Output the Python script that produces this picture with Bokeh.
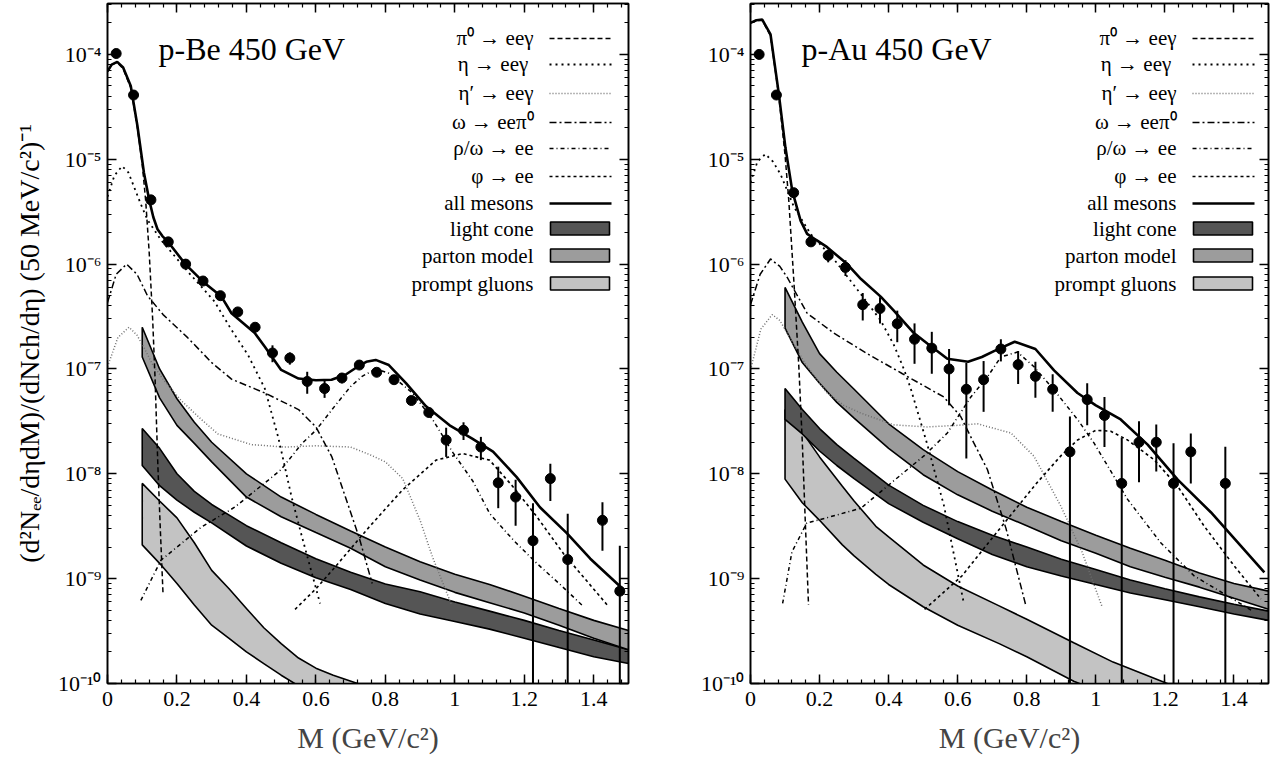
import numpy as np
from bokeh.plotting import figure
from bokeh.layouts import row
from bokeh.models import Range1d, LinearScale, FixedTicker, CustomJSTickFormatter, LogAxis, LinearAxis
from bokeh.core.properties import value
from bokeh.embed import file_html
from bokeh.resources import INLINE

FONT = "Liberation Serif"

# ------------------------------------------------------------------ data
pts_M_be = [0.025, 0.075, 0.125, 0.175, 0.225, 0.275, 0.325, 0.375, 0.425, 0.475,
            0.525, 0.575, 0.625, 0.675, 0.725, 0.775, 0.825, 0.875, 0.925, 0.975,
            1.025, 1.075, 1.125, 1.175, 1.225, 1.275, 1.325, 1.425, 1.475]
pts_be = [1.02e-4, 4.1e-5, 4.1e-6, 1.63e-6, 1.0e-6, 6.9e-7, 5.0e-7, 3.5e-7, 2.5e-7, 1.42e-7,
          1.27e-7, 7.6e-8, 6.5e-8, 8.2e-8, 1.09e-7, 9.3e-8, 7.9e-8, 5.0e-8, 3.85e-8, 2.1e-8,
          2.6e-8, 1.8e-8, 8.2e-9, 6.0e-9, 2.3e-9, 9.0e-9, 1.52e-9, 3.6e-9, 7.6e-10]
err_be = [3e-6, 1.5e-6, 2e-7, 8e-8, 5e-8, 4e-8, 3e-8, 2.5e-8, 2e-8, 2.6e-8,
          1.7e-8, 1.8e-8, 1.2e-8, 9e-9, 8e-9, 6e-9, 6e-9, 4e-9, 4e-9, 6.5e-9,
          5e-9, 4.5e-9, 3.5e-9, 2.8e-9, 2.95e-9, 3.5e-9, 2.65e-9, 1.75e-9, 1.3e-9]

pts_M_au = [0.025, 0.075, 0.125, 0.175, 0.225, 0.275, 0.325, 0.375, 0.425, 0.475,
            0.525, 0.575, 0.625, 0.675, 0.725, 0.775, 0.825, 0.875, 0.925, 0.975,
            1.025, 1.075, 1.125, 1.175, 1.225, 1.275, 1.375]
pts_au = [1.0e-4, 4.1e-5, 4.8e-6, 1.63e-6, 1.21e-6, 9.3e-7, 4.1e-7, 3.77e-7, 2.7e-7, 1.92e-7,
          1.58e-7, 1.0e-7, 6.4e-8, 7.9e-8, 1.55e-7, 1.1e-7, 8.5e-8, 6.4e-8, 1.62e-8, 5.1e-8,
          3.6e-8, 8.1e-9, 2.0e-8, 2.0e-8, 8.1e-9, 1.62e-8, 8.1e-9]
err_au = [3e-6, 1.5e-6, 3e-7, 1.5e-7, 1.7e-7, 1.6e-7, 1.2e-7, 1.05e-7, 9e-8, 8e-8,
          6.8e-8, 5.5e-8, 5e-8, 4e-8, 3.7e-8, 3.8e-8, 3.2e-8, 2.5e-8, 1.9e-8, 2.2e-8,
          1.8e-8, 1.4e-8, 1.17e-8, 9.5e-9, 1.15e-8, 8.1e-9, 1.0e-8]

# all mesons
allm_M_be = [0, 0.012, 0.028, 0.045, 0.067, 0.086, 0.105, 0.12, 0.132, 0.144, 0.158, 0.173, 0.224, 0.275,
             0.328, 0.357, 0.424, 0.453, 0.5, 0.55, 0.6, 0.645, 0.685, 0.72, 0.745, 0.772,
             0.81, 0.86, 0.917, 0.985, 1.05, 1.11, 1.178, 1.245, 1.323, 1.39, 1.487]
allm_be = [6.9e-5, 8.0e-5, 8.5e-5, 7.5e-5, 5.0e-5, 2.1e-5, 7.4e-6, 4.1e-6, 2.8e-6, 2.15e-6, 1.85e-6, 1.65e-6,
           1.0e-6, 6.8e-7, 4.9e-7, 3.4e-7, 2.2e-7, 1.63e-7, 9.8e-8, 8.1e-8, 7.8e-8, 7.9e-8, 8.8e-8, 1.05e-7,
           1.17e-7, 1.22e-7, 1.09e-7, 7.3e-8, 4.4e-8, 2.9e-8, 2.17e-8, 1.63e-8, 9.3e-9, 4.8e-9, 2.7e-9,
           1.55e-9, 7.8e-10]
allm_M_au = [0, 0.017, 0.034, 0.058, 0.082, 0.101, 0.121, 0.145, 0.164, 0.19, 0.222, 0.28, 0.32,
             0.377, 0.415, 0.473, 0.512, 0.57, 0.63, 0.67, 0.705, 0.765, 0.825, 0.879, 0.947,
             1.0, 1.072, 1.15, 1.237, 1.333, 1.488]
allm_au = [2.0e-4, 2.12e-4, 2.15e-4, 1.55e-4, 4.2e-5, 1.3e-5, 5.0e-6, 2.6e-6, 1.94e-6, 1.7e-6, 1.45e-6, 1.0e-6, 7.2e-7,
           4.9e-7, 3.6e-7, 2.2e-7, 1.75e-7, 1.25e-7, 1.17e-7, 1.3e-7, 1.48e-7, 1.82e-7, 1.55e-7, 9.7e-8, 5.9e-8,
           4.5e-8, 3.3e-8, 1.9e-8, 8.8e-9, 4.3e-9, 1.15e-9]

# pi0 -> ee gamma
pi0_M_be = [0, 0.012, 0.028, 0.045, 0.067, 0.086, 0.1, 0.11, 0.12, 0.13, 0.137, 0.145, 0.152, 0.16]
pi0_be = [6.9e-5, 8.0e-5, 8.4e-5, 7.3e-5, 4.8e-5, 2.0e-5, 9e-6, 4e-6, 1.3e-6, 3e-7, 8e-8, 1.2e-8, 3e-9, 7e-10]
pi0_M_au = [0, 0.017, 0.034, 0.058, 0.082, 0.1, 0.111, 0.126, 0.14, 0.15, 0.158, 0.168]
pi0_au = [2.0e-4, 2.1e-4, 2.12e-4, 1.5e-4, 4.0e-5, 1.1e-5, 4e-6, 6.5e-7, 1.05e-7, 2e-8, 4e-9, 5.6e-10]

# eta -> ee gamma
eta_M_be = [0, 0.02, 0.042, 0.06, 0.076, 0.095, 0.115, 0.154, 0.231, 0.308, 0.357, 0.405, 0.453,
            0.492, 0.53, 0.56, 0.612]
eta_be = [4.4e-6, 7.0e-6, 8.6e-6, 7.5e-6, 5.5e-6, 3.8e-6, 2.65e-6, 1.7e-6, 8.5e-7, 4.4e-7, 2.36e-7, 1.35e-7, 6.5e-8,
          2.2e-8, 6e-9, 2.5e-9, 5.8e-10]
eta_M_au = [0, 0.02, 0.043, 0.065, 0.087, 0.126, 0.174, 0.241, 0.319, 0.377, 0.415, 0.444, 0.464,
            0.512, 0.56, 0.617]
eta_au = [6.0e-6, 9.5e-6, 1.12e-5, 9.5e-6, 7.2e-6, 3.5e-6, 1.94e-6, 1.12e-6, 5.2e-7, 2.9e-7, 1.7e-7, 1.0e-7, 6.5e-8,
          1.9e-8, 5e-9, 6e-10]

# eta' -> ee gamma
etap_M_be = [0, 0.03, 0.062, 0.085, 0.105, 0.13, 0.16, 0.212, 0.27, 0.318, 0.414, 0.51, 0.6, 0.7,
             0.76, 0.8, 0.85, 0.9, 0.936, 0.99]
etap_be = [1.05e-7, 2.0e-7, 2.5e-7, 2.1e-7, 1.6e-7, 1.1e-7, 8e-8, 5e-8, 3.3e-8, 2.4e-8, 1.9e-8, 1.8e-8, 1.85e-8, 1.8e-8,
           1.5e-8, 1.3e-8, 9e-9, 3.6e-9, 1.6e-9, 5.7e-10]
etap_M_au = [0, 0.03, 0.063, 0.085, 0.106, 0.16, 0.22, 0.27, 0.319, 0.415, 0.512, 0.6, 0.657, 0.754,
             0.821, 0.899, 0.96, 1.019]
etap_au = [9.8e-8, 2.4e-7, 3.3e-7, 2.9e-7, 2.2e-7, 1.1e-7, 6e-8, 4.5e-8, 3.8e-8, 2.93e-8, 2.8e-8, 2.9e-8, 3.0e-8, 2.45e-8,
           1.47e-8, 4.9e-9, 1.8e-9, 5.3e-10]

# omega -> ee pi0
omd_M_be = [0, 0.025, 0.055, 0.085, 0.115, 0.16, 0.23, 0.3, 0.357, 0.453, 0.55, 0.6, 0.646, 0.685, 0.724, 0.762]
omd_be = [4.3e-7, 8e-7, 1.0e-6, 8e-7, 5e-7, 3.3e-7, 2.0e-7, 1.15e-7, 8e-8, 5.9e-8, 4.1e-8, 2.8e-8, 1.45e-8, 6e-9,
          2.5e-9, 9e-10]
omd_M_au = [0, 0.028, 0.058, 0.085, 0.106, 0.164, 0.241, 0.338, 0.44, 0.56, 0.609, 0.647, 0.686, 0.74, 0.797]
omd_au = [4.1e-7, 8e-7, 1.12e-6, 9.5e-7, 7.5e-7, 3.4e-7, 2.2e-7, 1.4e-7, 9e-8, 5.4e-8, 3.5e-8, 1.96e-8, 1.1e-8,
          3e-9, 5.6e-10]

# rho/omega -> ee
rho_M_be = [0.096, 0.154, 0.27, 0.366, 0.463, 0.5, 0.56, 0.6, 0.656, 0.7, 0.733, 0.772, 0.81, 0.878,
            0.936, 0.994, 1.052, 1.1, 1.17, 1.236, 1.3, 1.371]
rho_be = [6.2e-10, 1.5e-9, 3.1e-9, 4.8e-9, 8.7e-9, 1.1e-8, 1.95e-8, 2.6e-8, 4.5e-8, 6.8e-8, 8.5e-8, 1.0e-7, 9.1e-8,
          5.9e-8, 3.3e-8, 1.6e-8, 8.5e-9, 4.2e-9, 2.3e-9, 1.4e-9, 9e-10, 5.4e-10]
rho_M_au = [0.093, 0.12, 0.163, 0.22, 0.32, 0.417, 0.504, 0.57, 0.638, 0.686, 0.725, 0.773, 0.821, 0.879,
            0.947, 0.995, 1.092, 1.188, 1.285, 1.4, 1.45]
rho_au = [5.8e-10, 1.8e-9, 3.4e-9, 3.8e-9, 4.7e-9, 8.7e-9, 1.5e-8, 2.45e-8, 5.4e-8, 8.4e-8, 1.3e-7, 1.45e-7, 1.05e-7,
          6.3e-8, 3.3e-8, 1.96e-8, 5.7e-9, 2.2e-9, 1.06e-9, 6.3e-10, 5e-10]

# phi -> ee
phi_M_be = [0.54, 0.6, 0.656, 0.753, 0.849, 0.946, 1.023, 1.1, 1.168, 1.236, 1.313, 1.439]
phi_be = [5.1e-10, 8e-10, 1.3e-9, 3.1e-9, 7e-9, 1.35e-8, 1.56e-8, 1.35e-8, 7.5e-9, 3.9e-9, 1.73e-9, 5.6e-10]
phi_M_au = [0.504, 0.612, 0.72, 0.828, 0.9, 0.947, 1.0, 1.043, 1.092, 1.169, 1.237, 1.314, 1.401, 1.478]
phi_au = [5.1e-10, 1.06e-9, 2.95e-9, 8.1e-9, 1.5e-8, 2.1e-8, 2.6e-8, 2.55e-8, 2.1e-8, 1.36e-8, 7.6e-9, 3.16e-9,
          1.32e-9, 6.4e-10]

# bands (light cone, parton model) on a common mass grid
band_M = [0.1, 0.15, 0.2, 0.25, 0.3, 0.4, 0.5, 0.6, 0.7, 0.8, 0.9, 1.0, 1.1, 1.2, 1.3, 1.4, 1.5]
parton_hi_be = [2.5e-7, 1.0e-7, 5.2e-8, 3.1e-8, 2.0e-8, 1.0e-8, 6.0e-9, 4.1e-9, 2.85e-9, 2.0e-9, 1.45e-9, 1.1e-9,
                8.8e-10, 6.8e-10, 5.2e-10, 4.0e-10, 3.2e-10]
parton_lo_be = [1.3e-7, 5.3e-8, 2.9e-8, 1.95e-8, 1.3e-8, 6.0e-9, 3.9e-9, 2.75e-9, 1.95e-9, 1.3e-9, 9.7e-10, 7.4e-10,
                5.9e-10, 4.7e-10, 3.6e-10, 2.7e-10, 2.1e-10]
light_hi_be = [2.7e-8, 1.75e-8, 1.0e-8, 6.8e-9, 5.1e-9, 3.2e-9, 2.2e-9, 1.55e-9, 1.15e-9, 8.9e-10, 7.5e-10, 6.0e-10,
               4.9e-10, 4.0e-10, 3.2e-10, 2.6e-10, 2.1e-10]
light_lo_be = [1.2e-8, 7.7e-9, 5.6e-9, 4.3e-9, 3.4e-9, 2.05e-9, 1.4e-9, 1.02e-9, 7.9e-10, 5.8e-10, 4.6e-10, 3.9e-10,
               3.3e-10, 2.7e-10, 2.2e-10, 1.8e-10, 1.55e-10]
parton_hi_au = [6.0e-7, 2.8e-7, 1.4e-7, 9.3e-8, 6.4e-8, 3.0e-8, 1.7e-8, 1.05e-8, 7.0e-9, 4.8e-9, 3.5e-9, 2.6e-9,
                1.95e-9, 1.5e-9, 1.13e-9, 9.0e-10, 7.6e-10]
parton_lo_au = [2.45e-7, 1.15e-7, 7.3e-8, 4.8e-8, 3.4e-8, 1.75e-8, 9.8e-9, 6.3e-9, 4.4e-9, 3.2e-9, 2.3e-9, 1.75e-9,
                1.3e-9, 1.03e-9, 8.3e-10, 6.5e-10, 5.1e-10]
light_hi_au = [6.5e-8, 4.1e-8, 2.7e-8, 1.9e-8, 1.4e-8, 7.8e-9, 5.0e-9, 3.5e-9, 2.6e-9, 2.0e-9, 1.53e-9, 1.22e-9,
               9.7e-10, 8.0e-10, 6.7e-10, 5.7e-10, 4.9e-10]
light_lo_au = [3.3e-8, 2.4e-8, 1.65e-8, 1.2e-8, 9.0e-9, 5.2e-9, 3.45e-9, 2.4e-9, 1.7e-9, 1.3e-9, 1.06e-9, 8.8e-10,
               7.3e-10, 6.3e-10, 5.4e-10, 4.6e-10, 4.0e-10]

# prompt gluons
prompt_M_be = [0.1, 0.15, 0.2, 0.25, 0.3, 0.35, 0.4, 0.45, 0.5, 0.55, 0.6, 0.65, 0.72, 0.8]
prompt_hi_be = [8.1e-9, 5.5e-9, 3.8e-9, 2.2e-9, 1.2e-9, 8.0e-10, 5.2e-10, 3.4e-10, 2.4e-10, 1.75e-10, 1.4e-10,
                1.2e-10, 1.0e-10, 8e-11]
prompt_lo_be = [2.1e-9, 1.4e-9, 9e-10, 5.6e-10, 3.6e-10, 2.7e-10, 2.0e-10, 1.55e-10, 1.2e-10, 9.5e-11, 7.5e-11,
                6e-11, 4.5e-11, 3.5e-11]
prompt_M_au = [0.1, 0.15, 0.2, 0.266, 0.3, 0.363, 0.4, 0.5, 0.6, 0.72, 0.8, 0.936, 1.05, 1.185, 1.3]
prompt_hi_au = [4.1e-8, 2.5e-8, 1.45e-8, 7.6e-9, 5.5e-9, 3.16e-9, 2.5e-9, 1.35e-9, 8.5e-10, 5.5e-10, 4.1e-10,
                2.45e-10, 1.6e-10, 1.07e-10, 7.5e-11]
prompt_lo_au = [8.9e-9, 5.3e-9, 3.6e-9, 2.1e-9, 1.65e-9, 1.1e-9, 8.8e-10, 5.4e-10, 3.6e-10, 2.4e-10, 1.8e-10,
                1.05e-10, 7.5e-11, 5e-11, 3.5e-11]

legend_labels = ["π⁰ → eeγ", "η  → eeγ", "η′ → eeγ", "ω → eeπ⁰", "ρ/ω → ee", "φ → ee",
                 "all mesons", "light cone", "parton model", "prompt gluons"]
titles = ["p-Be 450 GeV", "p-Au 450 GeV"]
y_title = "(d²Nₑₑ/dηdM)/(dNch/dη) (50 MeV/c²)⁻¹"
x_title = "M (GeV/c²)"
x_ticks = [0, 0.2, 0.4, 0.6, 0.8, 1.0, 1.2, 1.4]
y_decades = list(range(-10, -3))

# ------------------------------------------------------------------ styles / geometry
C_LIGHT = "#555555"
C_PARTON = "#9c9c9c"
C_PROMPT = "#c3c3c3"
STY = {
    "pi0": dict(line_color="black", line_width=1.5, line_dash="5 3"),
    "eta": dict(line_color="black", line_width=1.8, line_dash="2 4"),
    "etap": dict(line_color="#6e6e6e", line_width=1.5, line_dash="1 2"),
    "omd": dict(line_color="black", line_width=1.5, line_dash="7 3 2 3"),
    "rho": dict(line_color="black", line_width=1.5, line_dash="4 3 1 3"),
    "phi": dict(line_color="black", line_width=1.6, line_dash="3 3"),
    "allm": dict(line_color="black", line_width=2.6),
}

MT, MB = 3, 80
FH = 680
H = MT + FH + MB
YMIN, YMAX = 1e-10, 3.06e-4

xt = FixedTicker(ticks=x_ticks, minor_ticks=[round(0.04 * i, 2) for i in range(0, 38)])
yt = FixedTicker(ticks=[10.0 ** k for k in y_decades],
                 minor_ticks=[m * 10.0 ** k for k in y_decades for m in range(2, 10)])
xfmt = CustomJSTickFormatter(code="return String(Math.round(tick*10)/10);")
yfmt = CustomJSTickFormatter(code="""
const e = Math.round(Math.log10(tick));
const sup = {"-":"\u207b","0":"\u2070","1":"\u00b9","2":"\u00b2","3":"\u00b3","4":"\u2074",
             "5":"\u2075","6":"\u2076","7":"\u2077","8":"\u2078","9":"\u2079"};
return "10" + String(e).split("").map(c => sup[c]).join("");
""")
blank = CustomJSTickFormatter(code="return '';")


def style_axis(ax, size="22px"):
    ax.major_tick_in = 9
    ax.major_tick_out = 0
    ax.minor_tick_in = 4
    ax.minor_tick_out = 0
    ax.axis_line_width = 1.6
    ax.axis_line_color = "black"
    ax.major_tick_line_width = 1.5
    ax.minor_tick_line_width = 1.2
    ax.major_tick_line_color = "black"
    ax.minor_tick_line_color = "black"
    ax.major_label_text_font = FONT
    ax.major_label_text_font_size = size
    ax.major_label_text_color = "black"


def panel(W, ML, MR, title, d, ylabel=None):
    FW = W - ML - MR
    p = figure(width=W, height=H, x_range=Range1d(0, 1.5), y_range=Range1d(YMIN, YMAX),
               y_axis_type="log", output_backend="svg", toolbar_location=None, title=None,
               min_border_left=ML, min_border_right=MR, min_border_top=MT, min_border_bottom=MB)
    p.extra_x_ranges = {"px": Range1d(0, FW)}
    p.extra_y_ranges = {"px": Range1d(FH, 0)}
    p.extra_y_scales = {"px": LinearScale()}
    p.xgrid.visible = False
    p.ygrid.visible = False
    p.outline_line_color = "black"
    p.outline_line_width = 1.5
    p.background_fill_color = "white"
    p.border_fill_color = "white"

    xa = p.xaxis[0]
    xa.ticker = xt
    xa.formatter = xfmt
    style_axis(xa)
    xa.major_label_standoff = 8
    xa.axis_label = x_title
    xa.axis_label_text_font = FONT
    xa.axis_label_text_font_size = "30px"
    xa.axis_label_text_font_style = "normal"
    xa.axis_label_standoff = 12
    ya = p.yaxis[0]
    ya.ticker = yt
    ya.formatter = yfmt
    style_axis(ya)
    ya.major_label_standoff = 6
    if ylabel:
        ya.axis_label = ylabel
        ya.axis_label_text_font = FONT
        ya.axis_label_text_font_size = "28px"
        ya.axis_label_text_font_style = "normal"
        ya.axis_label_text_color = "black"
        ya.axis_label_standoff = 10

    top = LinearAxis(ticker=xt, formatter=blank, major_label_standoff=0)
    style_axis(top, "0px")
    p.add_layout(top, "above")
    rgt = LogAxis(ticker=yt, formatter=blank, major_label_standoff=0)
    style_axis(rgt, "0px")
    p.add_layout(rgt, "right")

    # bands
    for m, hi, lo, col in [(d["prompt_M"], d["prompt_hi"], d["prompt_lo"], C_PROMPT),
                           (band_M, d["light_hi"], d["light_lo"], C_LIGHT),
                           (band_M, d["parton_hi"], d["parton_lo"], C_PARTON)]:
        xs = list(m) + list(m)[::-1]
        ys = list(hi) + list(lo)[::-1]
        p.patch(xs, ys, fill_color=col, line_color="black", line_width=1.6)

    # meson cocktail curves
    for key in ["etap", "pi0", "eta", "omd", "rho", "phi", "allm"]:
        p.line(d[key + "_M"], d[key], **STY[key])

    # data with error bars
    y = np.array(d["pts"])
    e = np.array(d["err"])
    lo = np.maximum(y - e, 1e-12)
    p.segment(x0=d["pts_M"], y0=lo, x1=d["pts_M"], y1=y + e, line_color="black", line_width=2)
    p.scatter(d["pts_M"], d["pts"], size=10, fill_color="black", line_color="black")

    # panel title
    p.text(x=[51], y=[45], text=[title], x_range_name="px", y_range_name="px",
           text_font=value(FONT), text_font_size="32px", text_baseline="alphabetic",
           text_align="left", text_color="black")

    # legend (text on the left, sample on the right)
    rows = [34, 60, 89, 118, 144, 172, 199, 225, 252, 280]
    p.text(x=[426] * len(rows), y=rows, text=legend_labels, x_range_name="px", y_range_name="px",
           text_font=value(FONT), text_font_size="21px", text_baseline="middle", text_align="right",
           text_color="black")
    for r, key in zip(rows[:7], ["pi0", "eta", "etap", "omd", "rho", "phi", "allm"]):
        p.segment(x0=[442], y0=[r + 1], x1=[504], y1=[r + 1], x_range_name="px", y_range_name="px",
                  **STY[key])
    for r, col in zip(rows[7:], [C_LIGHT, C_PARTON, C_PROMPT]):
        p.quad(left=[443], right=[502], top=[r - 6.5], bottom=[r + 6.5], x_range_name="px",
               y_range_name="px", fill_color=col, line_color="black", line_width=1.6)
    return p


be = dict(pts_M=pts_M_be, pts=pts_be, err=err_be, allm_M=allm_M_be, allm=allm_be,
          pi0_M=pi0_M_be, pi0=pi0_be, eta_M=eta_M_be, eta=eta_be, etap_M=etap_M_be, etap=etap_be,
          omd_M=omd_M_be, omd=omd_be, rho_M=rho_M_be, rho=rho_be, phi_M=phi_M_be, phi=phi_be,
          parton_hi=parton_hi_be, parton_lo=parton_lo_be, light_hi=light_hi_be, light_lo=light_lo_be,
          prompt_M=prompt_M_be, prompt_hi=prompt_hi_be, prompt_lo=prompt_lo_be)
au = dict(pts_M=pts_M_au, pts=pts_au, err=err_au, allm_M=allm_M_au, allm=allm_au,
          pi0_M=pi0_M_au, pi0=pi0_au, eta_M=eta_M_au, eta=eta_au, etap_M=etap_M_au, etap=etap_au,
          omd_M=omd_M_au, omd=omd_au, rho_M=rho_M_au, rho=rho_au, phi_M=phi_M_au, phi=phi_au,
          parton_hi=parton_hi_au, parton_lo=parton_lo_au, light_hi=light_hi_au, light_lo=light_lo_au,
          prompt_M=prompt_M_au, prompt_hi=prompt_hi_au, prompt_lo=prompt_lo_au)

p1 = panel(640, 107, 12, titles[0], be, ylabel=y_title)
p2 = panel(640, 110, 12, titles[1], au)

layout = row(p1, p2)
open("out.html", "w").write(file_html(layout, INLINE))
